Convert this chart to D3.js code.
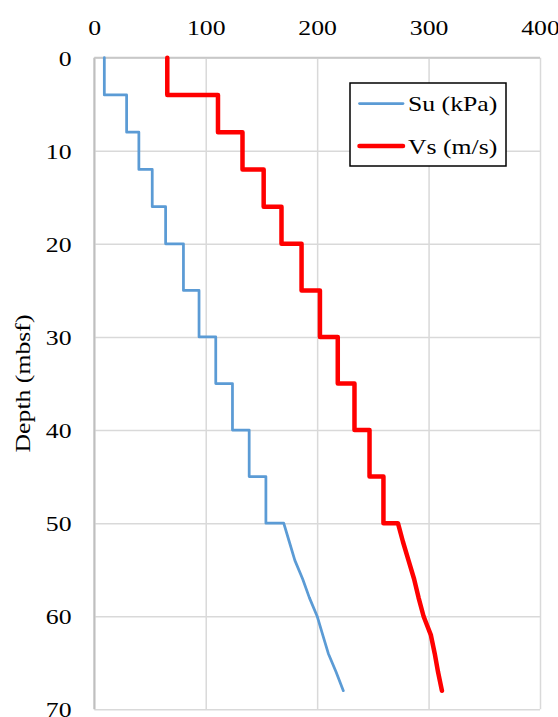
<!DOCTYPE html>
<html>
<head>
<meta charset="utf-8">
<script src="https://cdn.jsdelivr.net/npm/d3@7"></script>
<style>
  html, body { margin: 0; padding: 0; background: #fff; }
  svg { display: block; }
  text { font-family: "Liberation Serif", "Times New Roman", serif; fill: #000; }
</style>
</head>
<body>
<svg id="chart" width="558" height="717"></svg>
<script>
// ---- Data ----
const xTicks = [0, 100, 200, 300, 400];
const yTicks = [0, 10, 20, 30, 40, 50, 60, 70];

const suDepth = [0, 4, 4, 8, 8, 12, 12, 16, 16, 20, 20, 25, 25, 30, 30, 35, 35, 40, 40, 45, 45, 50, 50, 52, 54, 56, 58, 60, 62, 64, 66, 68];
const suValue = [9, 9, 29, 29, 40, 40, 52, 52, 64, 64, 80, 80, 94, 94, 109, 109, 124, 124, 139, 139, 154, 154, 170, 175, 180, 187, 193, 200, 205, 210, 217, 223.5];

const vsDepth = [0, 4, 4, 8, 8, 12, 12, 16, 16, 20, 20, 25, 25, 30, 30, 35, 35, 40, 40, 45, 45, 50, 50, 52, 54, 56, 58, 60, 62, 64, 66, 68];
const vsValue = [65.5, 65.5, 111, 111, 133, 133, 152, 152, 168, 168, 186, 186, 202.5, 202.5, 218.5, 218.5, 233.5, 233.5, 247, 247, 259.5, 259.5, 272.5, 277, 282, 287, 291, 295.5, 302, 305.5, 308.5, 312];

const seriesNames = ["Su (kPa)", "Vs (m/s)"];
const seriesColors = ["#5B9BD5", "#FF0000"];

// ---- Layout ----
const pLeft = 94.3, pTop = 57.7, pRight = 540, pBottom = 709.3;
const stretch = 1.17;
const fontSize = 22;

const svg = d3.select("#chart");
const x = d3.scaleLinear().domain([0, 400]).range([pLeft, pRight]);
const y = d3.scaleLinear().domain([0, 70]).range([pTop, pBottom]);

// gridlines
const grid = svg.append("g");
grid.append("g")
  .attr("transform", `translate(0,${pTop})`)
  .call(d3.axisTop(x).tickValues(xTicks).tickSize(-(pBottom - pTop)).tickFormat(""))
  .call(g => g.select(".domain").remove())
  .call(g => g.selectAll("line").attr("stroke", "#d9d9d9").attr("stroke-width", 1.5));
grid.append("g")
  .attr("transform", `translate(${pLeft},0)`)
  .call(d3.axisLeft(y).tickValues(yTicks).tickSize(-(pRight - pLeft)).tickFormat(""))
  .call(g => g.select(".domain").remove())
  .call(g => g.selectAll("line").attr("stroke", "#d9d9d9").attr("stroke-width", 1.5));

// axis lines
svg.append("line").attr("x1", pLeft).attr("x2", pLeft).attr("y1", pTop).attr("y2", pBottom)
  .attr("stroke", "#bfbfbf").attr("stroke-width", 2);
svg.append("line").attr("x1", pLeft).attr("x2", pRight).attr("y1", pTop).attr("y2", pTop)
  .attr("stroke", "#c8c8c8").attr("stroke-width", 1.75);

// x tick labels (top)
svg.append("g")
  .attr("transform", `translate(0,${pTop})`)
  .call(d3.axisTop(x).tickValues(xTicks).tickSize(0).tickFormat(d3.format("d")))
  .call(g => g.select(".domain").remove())
  .call(g => g.selectAll("text")
    .attr("font-size", fontSize).attr("font-family", "Liberation Serif")
    .attr("y", 0).attr("dy", 0)
    .attr("transform", `translate(0,-23.2) scale(${stretch},1)`)
    .attr("fill", "#000"));

// y tick labels (left)
svg.append("g")
  .attr("transform", `translate(${pLeft},0)`)
  .call(d3.axisLeft(y).tickValues(yTicks).tickSize(0).tickFormat(d3.format("d")))
  .call(g => g.select(".domain").remove())
  .call(g => g.selectAll("text")
    .attr("font-size", fontSize).attr("font-family", "Liberation Serif")
    .attr("x", 0).attr("dy", "0.34em")
    .attr("transform", `translate(-22.8,0) scale(${stretch},1)`)
    .attr("fill", "#000"));

// y axis title
svg.append("text")
  .attr("transform", `translate(30,383.5) rotate(-90) scale(${stretch},1)`)
  .attr("text-anchor", "middle")
  .attr("font-size", fontSize)
  .text("Depth (mbsf)");

// lines
const line = d3.line().x(d => x(d[1])).y(d => y(d[0]));
const suData = suDepth.map((d, i) => [d, suValue[i]]);
const vsData = vsDepth.map((d, i) => [d, vsValue[i]]);

svg.append("path").datum(suData).attr("d", line)
  .attr("fill", "none").attr("stroke", seriesColors[0]).attr("stroke-width", 2.75)
  .attr("stroke-linejoin", "round").attr("stroke-linecap", "round");
svg.append("path").datum(vsData).attr("d", line)
  .attr("fill", "none").attr("stroke", seriesColors[1]).attr("stroke-width", 4.5)
  .attr("stroke-linejoin", "round").attr("stroke-linecap", "round");

// legend
const lg = svg.append("g");
lg.append("rect").attr("x", 350).attr("y", 83).attr("width", 156).attr("height", 83)
  .attr("fill", "#fff").attr("stroke", "#000").attr("stroke-width", 1.5);
const rows = [103.5, 146];
const widths = [2.75, 4.5];
seriesNames.forEach((name, i) => {
  lg.append("line").attr("x1", 359.5).attr("x2", 403).attr("y1", rows[i]).attr("y2", rows[i])
    .attr("stroke", seriesColors[i]).attr("stroke-width", widths[i]).attr("stroke-linecap", "round");
  lg.append("text")
    .attr("transform", `translate(408,${rows[i] + 7.5}) scale(${stretch},1)`)
    .attr("font-size", fontSize)
    .text(name);
});
</script>
</body>
</html>
